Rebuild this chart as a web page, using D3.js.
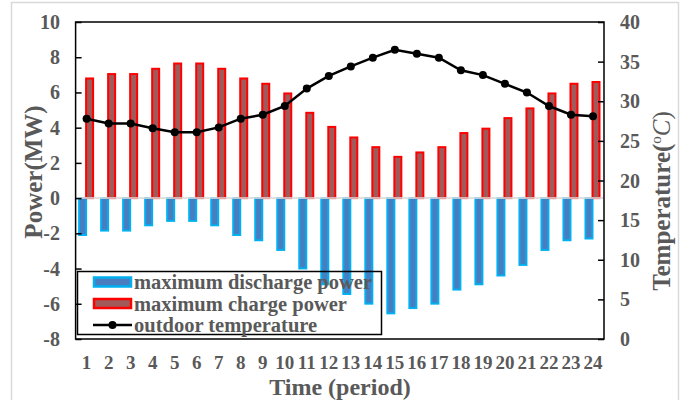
<!DOCTYPE html>
<html>
<head>
<meta charset="utf-8">
<script src="https://cdn.jsdelivr.net/npm/d3@7"></script>
<style>
  body { margin: 0; background: #fff; }
  svg text { font-family: "Liberation Serif", "Times New Roman", serif; font-weight: bold; fill: #595959; }
</style>
</head>
<body>
<svg id="chart" width="686" height="400"></svg>
<script>
// Data
const periods = d3.range(1, 25);
const chargePower = [6.85, 7.1, 7.1, 7.4, 7.7, 7.7, 7.4, 6.85, 6.55, 6.0, 4.9, 4.1,
                     3.5, 2.95, 2.4, 2.65, 2.95, 3.75, 4.0, 4.6, 5.15, 6.0, 6.55, 6.65];
const dischargePower = [-2.15, -1.9, -1.9, -1.6, -1.35, -1.35, -1.6, -2.15, -2.45, -3.0, -4.05, -4.95,
                        -5.5, -6.05, -6.6, -6.3, -6.05, -5.25, -4.95, -4.45, -3.85, -3.0, -2.45, -2.35];
const temperature = [27.8, 27.2, 27.2, 26.6, 26.1, 26.1, 26.7, 27.8, 28.3, 29.4, 31.6, 33.2,
                     34.4, 35.5, 36.5, 36.0, 35.5, 33.9, 33.3, 32.2, 31.1, 29.4, 28.3, 28.1];
const powerTicks = [-8, -6, -4, -2, 0, 2, 4, 6, 8, 10];
const tempTicks = [0, 5, 10, 15, 20, 25, 30, 35, 40];

const svg = d3.select('#chart');
const plotL = 75.6, plotR = 604, plotT = 22, plotB = 339;

// outer light border
svg.append('rect')
  .attr('x', 11.5).attr('y', 2.5)
  .attr('width', 667).attr('height', 410)
  .attr('fill', 'none').attr('stroke', '#d9d9d9').attr('stroke-width', 1.5);

const x = d3.scaleBand().domain(periods).range([plotL, plotR]).padding(0);
const yP = d3.scaleLinear().domain([-8, 10]).range([plotB, plotT]);
const yT = d3.scaleLinear().domain([0, 40]).range([plotB, plotT]);

const barW = 7;

// discharge bars
svg.append('g').selectAll('rect')
  .data(dischargePower)
  .join('rect')
  .attr('x', (d, i) => x(periods[i]) + x.bandwidth() / 2 - 4 - barW / 2)
  .attr('y', yP(0))
  .attr('width', barW)
  .attr('height', d => yP(d) - yP(0) - 1)
  .attr('fill', '#4a7cc0')
  .attr('stroke', '#00b0f0')
  .attr('stroke-width', 2);

// charge bars
svg.append('g').selectAll('rect')
  .data(chargePower)
  .join('rect')
  .attr('x', (d, i) => x(periods[i]) + x.bandwidth() / 2 + 3 - barW / 2)
  .attr('y', d => yP(d) + 1)
  .attr('width', barW)
  .attr('height', d => yP(0) - yP(d) - 1)
  .attr('fill', '#a05a5a')
  .attr('stroke', '#ff0000')
  .attr('stroke-width', 2);

// zero line
svg.append('line')
  .attr('x1', plotL).attr('x2', plotR)
  .attr('y1', yP(0)).attr('y2', yP(0))
  .attr('stroke', '#d9d9d9').attr('stroke-width', 2).attr('opacity', 0.8);

// temperature line
const line = d3.line()
  .x((d, i) => x(periods[i]) + x.bandwidth() / 2)
  .y(d => yT(d));

svg.append('path')
  .datum(temperature)
  .attr('d', line)
  .attr('fill', 'none')
  .attr('stroke', '#000')
  .attr('stroke-width', 2.5);

svg.append('g').selectAll('circle')
  .data(temperature)
  .join('circle')
  .attr('cx', (d, i) => x(periods[i]) + x.bandwidth() / 2)
  .attr('cy', d => yT(d))
  .attr('r', 4)
  .attr('fill', '#000');

// frame
svg.append('rect')
  .attr('x', plotL).attr('y', plotT)
  .attr('width', plotR - plotL).attr('height', plotB - plotT)
  .attr('fill', 'none').attr('stroke', '#000').attr('stroke-width', 1.5);

// left axis
const leftAxis = svg.append('g')
  .attr('transform', `translate(${plotL},0)`)
  .call(d3.axisRight(yP).tickValues(powerTicks).tickSize(6).tickFormat(''));
leftAxis.select('.domain').remove();
leftAxis.selectAll('line').attr('stroke', '#000').attr('stroke-width', 1.5);

svg.append('g').selectAll('text')
  .data(powerTicks)
  .join('text')
  .attr('x', 60)
  .attr('y', d => yP(d))
  .attr('dy', '0.35em')
  .attr('text-anchor', 'end')
  .attr('font-size', 20)
  .text(d => d);

// right axis
const rightAxis = svg.append('g')
  .attr('transform', `translate(${plotR},0)`)
  .call(d3.axisLeft(yT).tickValues(tempTicks).tickSize(6).tickFormat(''));
rightAxis.select('.domain').remove();
rightAxis.selectAll('line').attr('stroke', '#000').attr('stroke-width', 1.5);

svg.append('g').selectAll('text')
  .data(tempTicks)
  .join('text')
  .attr('x', 620)
  .attr('y', d => yT(d))
  .attr('dy', '0.35em')
  .attr('text-anchor', 'start')
  .attr('font-size', 20)
  .text(d => d);

// x tick labels
svg.append('g').selectAll('text')
  .data(periods)
  .join('text')
  .attr('x', d => x(d) + x.bandwidth() / 2)
  .attr('y', 368.5)
  .attr('text-anchor', 'middle')
  .attr('font-size', 19)
  .text(d => d);

// axis titles
svg.append('text')
  .attr('x', 340).attr('y', 394.5)
  .attr('text-anchor', 'middle')
  .attr('font-size', 24)
  .text('Time (period)');

svg.append('text')
  .attr('transform', 'translate(42,172) rotate(-90)')
  .attr('text-anchor', 'middle')
  .attr('font-size', 25)
  .text('Power(MW)');

const tTitle = svg.append('text')
  .attr('transform', 'translate(670,201) rotate(-90)')
  .attr('text-anchor', 'middle')
  .attr('font-size', 25);
tTitle.append('tspan').text('Temperature(');
tTitle.append('tspan').attr('font-size', 15).attr('dy', -9).attr('font-weight', 'normal').text('o');
tTitle.append('tspan').attr('dy', 9).attr('font-style', 'italic').attr('font-weight', 'normal').text('C');
tTitle.append('tspan').attr('font-weight', 'normal').text(')');

// legend
const legend = svg.append('g');
legend.append('rect')
  .attr('x', 77.5).attr('y', 271.5)
  .attr('width', 304).attr('height', 63)
  .attr('fill', 'none').attr('stroke', '#000').attr('stroke-width', 1.5);

const legendItems = [
  { label: 'maximum discharge power', type: 'bar', fill: '#4a7cc0', stroke: '#00b0f0' },
  { label: 'maximum charge power', type: 'bar', fill: '#a05a5a', stroke: '#ff0000' },
  { label: 'outdoor temperature', type: 'line' }
];

legendItems.forEach((item, i) => {
  const cy = 282 + i * 21.5;
  if (item.type === 'bar') {
    legend.append('rect')
      .attr('x', 94).attr('y', cy - 4.5)
      .attr('width', 37).attr('height', 9)
      .attr('fill', item.fill).attr('stroke', item.stroke).attr('stroke-width', 2.5);
  } else {
    legend.append('line')
      .attr('x1', 93).attr('x2', 132)
      .attr('y1', cy).attr('y2', cy)
      .attr('stroke', '#000').attr('stroke-width', 2.5);
    legend.append('circle')
      .attr('cx', 112.5).attr('cy', cy).attr('r', 4).attr('fill', '#000');
  }
  legend.append('text')
    .attr('x', 134).attr('y', cy)
    .attr('dy', '0.35em')
    .attr('font-size', 20.5)
    .text(item.label);
});
</script>
</body>
</html>
